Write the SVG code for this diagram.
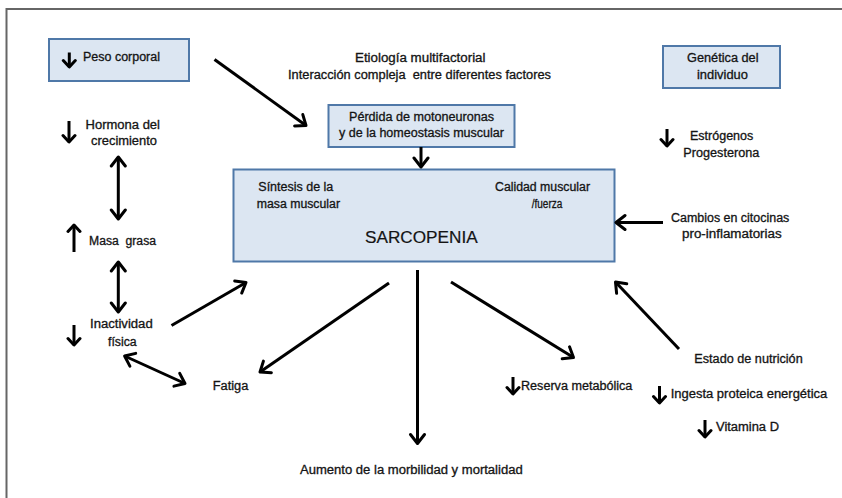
<svg xmlns="http://www.w3.org/2000/svg" width="842" height="498" viewBox="0 0 842 498">
<style>
text{font-family:"Liberation Sans",Arial,sans-serif;font-size:12px;fill:#141414;stroke:#141414;stroke-width:0.3}
.big{font-size:17px;stroke-width:0.2}
.box{fill:#dce6f2;stroke:#4f78a8;stroke-width:2}
.con{fill:none;stroke:#000;stroke-width:3}
.sm{fill:none;stroke:#000;stroke-width:3}
</style>
<defs>
<marker id="ah" viewBox="-12 -10 14 20" refX="0" refY="0" markerWidth="14" markerHeight="20" orient="auto-start-reverse" markerUnits="userSpaceOnUse">
<path d="M-9,-7 L0,0 L-9,7" fill="none" stroke="#000" stroke-width="3" stroke-linecap="round" stroke-linejoin="round"/>
</marker>
<marker id="as" viewBox="-10 -9 12 18" refX="0" refY="0" markerWidth="12" markerHeight="18" orient="auto" markerUnits="userSpaceOnUse">
<path d="M-6.5,-6 L0,0 L-6.5,6" fill="none" stroke="#000" stroke-width="3" stroke-linecap="round" stroke-linejoin="round"/>
</marker>
</defs>
<rect width="842" height="498" fill="#fff"/>
<path d="M6.5,498 V9 H842" fill="none" stroke="#666" stroke-width="2"/>

<g id="peso">
<rect class="box" x="49" y="39" width="140" height="42"/>
<line class="sm" x1="69.3" y1="52.5" x2="69.3" y2="67" marker-end="url(#as)"/>
<text x="83" y="61" textLength="77" lengthAdjust="spacingAndGlyphs">Peso corporal</text>
</g>
<g id="etiologia">
<text x="355" y="61.5" textLength="130.5" lengthAdjust="spacingAndGlyphs">Etiología multifactorial</text>
<text x="288" y="79" textLength="263" lengthAdjust="spacingAndGlyphs" xml:space="preserve">Interacción compleja  entre diferentes factores</text>
</g>
<g id="genetica">
<rect class="box" x="663" y="46" width="117" height="42"/>
<text x="687" y="62" textLength="71.5" lengthAdjust="spacingAndGlyphs">Genética del</text>
<text x="697" y="79" textLength="51" lengthAdjust="spacingAndGlyphs">individuo</text>
</g>
<g id="perdida">
<rect class="box" x="328.5" y="105" width="186" height="42"/>
<text x="349" y="121" textLength="145" lengthAdjust="spacingAndGlyphs">Pérdida de motoneuronas</text>
<text x="339" y="137" textLength="165" lengthAdjust="spacingAndGlyphs">y de la homeostasis muscular</text>
</g>
<g id="hormona">
<line class="sm" x1="69" y1="121" x2="69" y2="142" marker-end="url(#as)"/>
<text x="85.5" y="129" textLength="74.5" lengthAdjust="spacingAndGlyphs">Hormona del</text>
<text x="91" y="144.5" textLength="66" lengthAdjust="spacingAndGlyphs">crecimiento</text>
</g>
<g id="estrogenos">
<line class="sm" x1="667" y1="129" x2="667" y2="146" marker-end="url(#as)"/>
<text x="690" y="140" textLength="63.3" lengthAdjust="spacingAndGlyphs">Estrógenos</text>
<text x="683.3" y="156.7" textLength="76" lengthAdjust="spacingAndGlyphs">Progesterona</text>
</g>
<g id="sarcopenia">
<rect class="box" x="233.5" y="169.5" width="381" height="92"/>
<text x="258.3" y="191.3" textLength="75" lengthAdjust="spacingAndGlyphs">Síntesis de la</text>
<text x="256.7" y="208.3" textLength="83.3" lengthAdjust="spacingAndGlyphs">masa muscular</text>
<text x="495" y="191.3" textLength="95" lengthAdjust="spacingAndGlyphs">Calidad muscular</text>
<text x="531.7" y="208.3" textLength="30.6" lengthAdjust="spacingAndGlyphs">/fuerza</text>
<text class="big" x="365" y="243.3" textLength="112.7" lengthAdjust="spacingAndGlyphs">SARCOPENIA</text>
</g>
<g id="citocinas">
<text x="671" y="222" textLength="118.3" lengthAdjust="spacingAndGlyphs">Cambios en citocinas</text>
<text x="682" y="238" textLength="99.7" lengthAdjust="spacingAndGlyphs">pro-inflamatorias</text>
</g>
<g id="masa-grasa">
<line class="sm" x1="74" y1="252" x2="74" y2="225" marker-end="url(#as)"/>
<text x="89" y="245" textLength="67" lengthAdjust="spacingAndGlyphs" xml:space="preserve">Masa  grasa</text>
</g>
<g id="inactividad">
<line class="sm" x1="74" y1="325" x2="74" y2="345" marker-end="url(#as)"/>
<text x="90" y="328.3" textLength="62.7" lengthAdjust="spacingAndGlyphs">Inactividad</text>
<text x="108" y="345.7" textLength="28.7" lengthAdjust="spacingAndGlyphs">física</text>
</g>
<g id="fatiga">
<text x="212.7" y="390" textLength="35.6" lengthAdjust="spacingAndGlyphs">Fatiga</text>
</g>
<g id="reserva">
<line class="sm" x1="513" y1="377" x2="513" y2="394" marker-end="url(#as)"/>
<text x="521" y="390" textLength="111.3" lengthAdjust="spacingAndGlyphs">Reserva metabólica</text>
</g>
<g id="nutricion">
<text x="694.3" y="363.3" textLength="108.4" lengthAdjust="spacingAndGlyphs">Estado de nutrición</text>
<line class="sm" x1="659.5" y1="386" x2="659.5" y2="403" marker-end="url(#as)"/>
<text x="670.7" y="398.3" textLength="156.6" lengthAdjust="spacingAndGlyphs">Ingesta proteica energética</text>
<line class="sm" x1="705" y1="420" x2="705" y2="437" marker-end="url(#as)"/>
<text x="716" y="430.7" textLength="63" lengthAdjust="spacingAndGlyphs">Vitamina D</text>
</g>
<g id="aumento">
<text x="300" y="474" textLength="222.7" lengthAdjust="spacingAndGlyphs">Aumento de la morbilidad y mortalidad</text>
</g>

<g id="connectors">
<line class="con" x1="214.5" y1="59.5" x2="306" y2="125.5" marker-end="url(#ah)"/>
<line class="con" x1="421" y1="147" x2="421" y2="167" marker-end="url(#ah)"/>
<line class="con" x1="118.3" y1="157" x2="118.3" y2="219" marker-start="url(#ah)" marker-end="url(#ah)"/>
<line class="con" x1="118.3" y1="262" x2="118.3" y2="312" marker-start="url(#ah)" marker-end="url(#ah)"/>
<line class="con" x1="171.5" y1="325.5" x2="246" y2="282.5" marker-end="url(#ah)"/>
<line class="con" x1="124.6" y1="356" x2="185" y2="383.5" marker-start="url(#ah)" marker-end="url(#ah)"/>
<line class="con" x1="389" y1="283" x2="260" y2="372" marker-end="url(#ah)"/>
<line class="con" x1="417.5" y1="270" x2="417.5" y2="443.5" marker-end="url(#ah)"/>
<line class="con" x1="451" y1="282" x2="573.5" y2="357.5" marker-end="url(#ah)"/>
<line class="con" x1="679" y1="349" x2="615.5" y2="282" marker-end="url(#ah)"/>
<line class="con" x1="663" y1="222.5" x2="616" y2="222.5" marker-end="url(#ah)"/>
</g>
</svg>
